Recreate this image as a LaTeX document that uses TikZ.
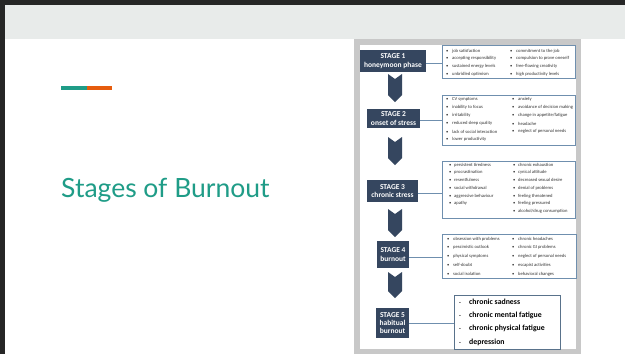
\documentclass[tikz,border=0pt]{standalone}
\usepackage{fontspec}
\setmainfont{Carlito}
\newfontfamily\latofont{Lato}
\begin{document}
\begin{tikzpicture}[x=1pt,y=-1pt,
  stagebox/.style={fill=navy, text=white, font=\fontsize{7.5}{8.3}\selectfont\bfseries, align=center, inner sep=0pt},
  listbox/.style={draw=boxblue, line width=0.9pt, fill=white},
  item/.style={anchor=west, inner sep=0pt, font=\fontsize{4.6}{5.5}\selectfont, text=black!80},
  bigitem/.style={anchor=west, inner sep=0pt, font=\fontsize{7.8}{9}\selectfont\bfseries, text=black},
  conn/.style={draw=boxblue, line width=0.8pt},
  chev/.style={fill=navy}
]
\definecolor{navy}{HTML}{35465F}
\definecolor{boxblue}{HTML}{6F8FAE}
\definecolor{teal}{HTML}{1F9C87}
\definecolor{orng}{HTML}{E65C0E}
\definecolor{header}{HTML}{E8EBEA}
\definecolor{frame}{HTML}{C8C8C8}
\useasboundingbox (0,0) rectangle (625,354);
\fill[white] (0,0) rectangle (625,354);
% slide border and header
\fill[header] (5,5) rectangle (625,39);
\fill[black!85] (0,0) rectangle (625,5);
\fill[black!85] (0,0) rectangle (5,354);
% accent bar and title
\fill[teal] (61,86) rectangle (87,90);
\fill[orng] (87,86) rectangle (112,90);
\node[anchor=base west, inner sep=0pt, text=teal, font=\latofont\fontsize{26.5}{31}\selectfont] (title) at (61,197) {Stages of Burnout};
% picture frame
\fill[frame] (354,39) rectangle (581,354);
\fill[white] (360,45) rectangle (576,349);
% stage boxes
\node[stagebox, minimum width=66pt, minimum height=22pt] (s1) at (393,61) {STAGE 1\\honeymoon phase};
\node[stagebox, minimum width=53pt, minimum height=19pt] (s2) at (393.5,118.5) {STAGE 2\\onset of stress};
\node[stagebox, minimum width=51pt, minimum height=22pt] (s3) at (392.5,191) {STAGE 3\\chronic stress};
\node[stagebox, minimum width=32pt, minimum height=27pt] (s4) at (393,254.5) {STAGE 4\\burnout};
\node[stagebox, minimum width=33pt, minimum height=30pt] (s5) at (392.5,323) {STAGE 5\\habitual\\burnout};
% chevron arrows
\foreach \t/\b in {74/102, 137/165, 209/237, 272/298}{
  \fill[chev] (388,\t) -- (395,\t+5) -- (402,\t) -- (402,\b-7) -- (395,\b) -- (388,\b-7) -- cycle;
}
% list boxes
\node[listbox, minimum width=133pt, minimum height=33pt] (b1) at (508.5,61.5) {};
\node[listbox, minimum width=133pt, minimum height=50pt] (b2) at (508.5,120) {};
\node[listbox, minimum width=133pt, minimum height=57pt] (b3) at (508.5,189.5) {};
\node[listbox, minimum width=134pt, minimum height=44pt] (b4) at (509,256) {};
\node[listbox, draw=boxblue!80!black, minimum width=106pt, minimum height=54pt] (b5) at (507,322) {};
% connectors
\draw[conn] (s1.east) ++(0,2) coordinate (c1) -- (c1 -| b1.west);
\draw[conn] (s2.east) ++(0,1.5) coordinate (c2) -- (c2 -| b2.west);
\draw[conn] (s3.east) ++(0,2) coordinate (c3) -- (c3 -| b3.west);
\draw[conn] (s4.east) ++(0,2.5) coordinate (c4) -- (c4 -| b4.west);
\draw[conn] (s5.east) -- (s5.east -| b5.west);
% box 1
\foreach \t [count=\i] in {job satisfaction, accepting responsibility, sustained energy levels, unbridled optimism}
  \node[item] (b1l\i) at (446,51+7.7*\i-7.7) {\makebox[6pt][l]{•}\t};
\foreach \t [count=\i] in {commitment to the job, compulsion to prove oneself, free-flowing creativity, high productivity levels}
  \node[item] (b1r\i) at (510,51+7.7*\i-7.7) {\makebox[6pt][l]{•}\t};
% box 2
\foreach \t [count=\i] in {CV symptoms, inability to focus, irritability, reduced sleep quality, lack of social interaction, lower productivity}
  \node[item] (b2l\i) at (446,99.5+8*\i-8) {\makebox[6pt][l]{•}\t};
\foreach \t [count=\i] in {anxiety, avoidance of decision making, change in appetite/fatigue, headache, neglect of personal needs}
  \node[item] (b2r\i) at (512,99.5+8*\i-8) {\makebox[6pt][l]{•}\t};
% box 3
\foreach \t [count=\i] in {persistent tiredness, procrastination, resentfulness, social withdrawal, aggressive behaviour, apathy}
  \node[item] (b3l\i) at (449,165+7.7*\i-7.7) {\makebox[5pt][l]{•}\t};
\foreach \t [count=\i] in {chronic exhaustion, cynical attitude, decreased sexual desire, denial of problems, feeling threatened, feeling pressured, alcohol/drug consumption}
  \node[item] (b3r\i) at (513,165+7.7*\i-7.7) {\makebox[5pt][l]{•}\t};
% box 4
\foreach \t [count=\i] in {obsession with problems, pessimistic outlook, physical symptoms, self-doubt, social isolation}
  \node[item] (b4l\i) at (447,239+8.7*\i-8.7) {\makebox[6pt][l]{•}\t};
\foreach \t [count=\i] in {chronic headaches, chronic GI problems, neglect of personal needs, escapist activities, behavioral changes}
  \node[item] (b4r\i) at (512,239+8.7*\i-8.7) {\makebox[6pt][l]{•}\t};
% box 5
\foreach \t [count=\i] in {chronic sadness, chronic mental fatigue, chronic physical fatigue, depression}
  \node[bigitem] (b5l\i) at (459,302+13.3*\i-13.3) {\makebox[10pt][l]{\fontsize{6}{7}\selectfont -}\t};
\end{tikzpicture}
\end{document}
